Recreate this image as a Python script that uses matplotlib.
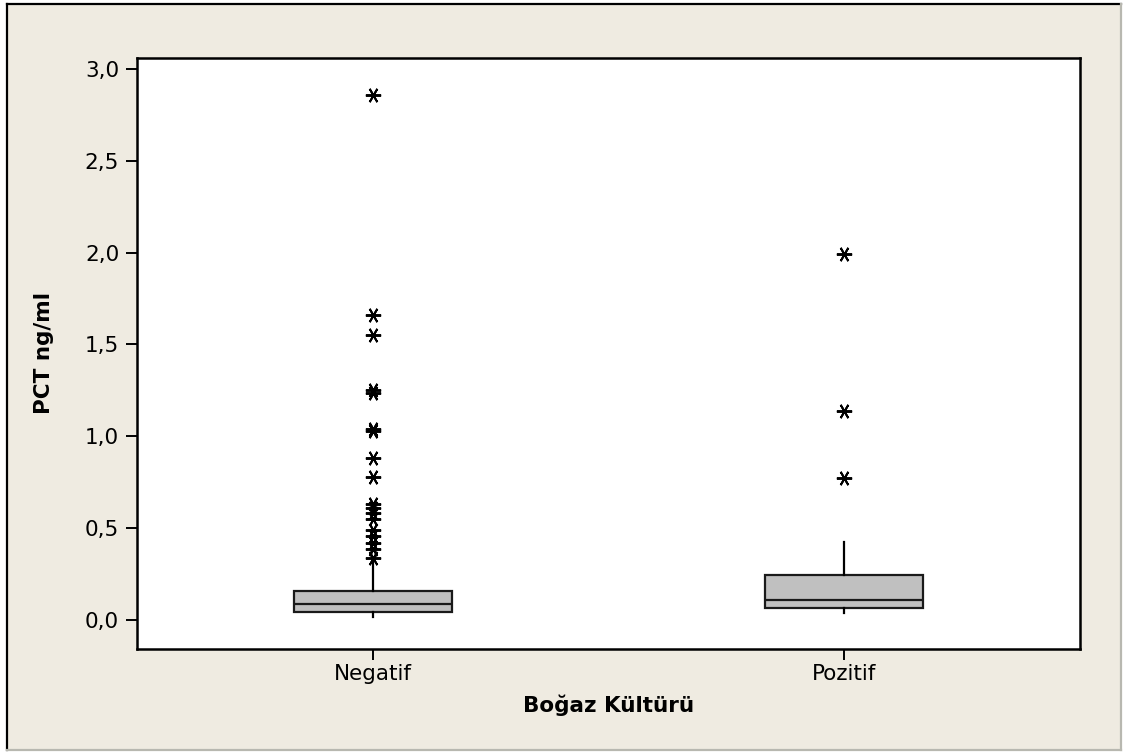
import matplotlib
matplotlib.use("Agg")
import matplotlib.pyplot as plt
from matplotlib.patches import Rectangle
from matplotlib.lines import Line2D

# Box plot summaries of PCT (ng/ml) by throat culture result
groups = ["Negatif", "Pozitif"]
q1 = [0.045, 0.067]
median = [0.089, 0.107]
q3 = [0.160, 0.245]
whisker_low = [0.015, 0.036]
whisker_high = [0.327, 0.423]
outliers_neg = [2.86, 1.66, 1.55, 1.25, 1.235, 1.04, 1.03, 0.88, 0.78,
                0.63, 0.61, 0.58, 0.55, 0.49, 0.455, 0.42, 0.385, 0.34]
outliers_pos = [1.99, 1.135, 0.775]
yticks = [0.0, 0.5, 1.0, 1.5, 2.0, 2.5, 3.0]

W, H = 1123, 752
fig = plt.figure(figsize=(W / 100, H / 100), dpi=100)
fig.patch.set_facecolor("white")

bg = "#EFEBE1"
fig.add_artist(Rectangle((7 / W, 1 - 750 / H), (1121 - 7) / W, (750 - 4) / H,
                         transform=fig.transFigure, facecolor=bg,
                         edgecolor="none", zorder=0))
# outer frame: dark on left/top, light grey on right/bottom
fig.add_artist(Line2D([7 / W, 7 / W], [1 - 750 / H, 1 - 4 / H],
                      transform=fig.transFigure, color="black", lw=1.6))
fig.add_artist(Line2D([7 / W, 1121 / W], [1 - 4 / H, 1 - 4 / H],
                      transform=fig.transFigure, color="black", lw=1.6))
fig.add_artist(Line2D([7 / W, 1121 / W], [1 - 750 / H, 1 - 750 / H],
                      transform=fig.transFigure, color="#B8B8B0", lw=1.6))
fig.add_artist(Line2D([1121 / W, 1121 / W], [1 - 750 / H, 1 - 4 / H],
                      transform=fig.transFigure, color="#B8B8B0", lw=1.6))

left, right = 137.3 / W, 1079.7 / W
bottom, top = 1 - 649 / H, 1 - 57.7 / H
ax = fig.add_axes([left, bottom, right - left, top - bottom])
ax.set_facecolor("white")

stats = []
fliers = [outliers_neg, outliers_pos]
for i, g in enumerate(groups):
    stats.append(dict(label=g, med=median[i], q1=q1[i], q3=q3[i],
                      whislo=whisker_low[i], whishi=whisker_high[i],
                      fliers=fliers[i]))

ax.bxp(stats, positions=[1, 2], widths=0.337, patch_artist=True,
       showcaps=False,
       boxprops=dict(facecolor="#C0C0C0", edgecolor="#1a1a1a", linewidth=1.6),
       medianprops=dict(color="#1a1a1a", linewidth=1.6),
       whiskerprops=dict(color="black", linewidth=1.6),
       flierprops=dict(marker=(6, 2, 90), markersize=11,
                       markeredgecolor="black", markeredgewidth=1.4,
                       linestyle="none"))

ax.set_xlim(0.5, 2.5)
ax.set_ylim(-0.158, 3.061)
ax.set_yticks(yticks)
ax.set_yticklabels([f"{v:.1f}".replace(".", ",") for v in yticks])
ax.set_xticks([1, 2])
ax.set_xticklabels(groups)

for s in ax.spines.values():
    s.set_linewidth(1.8)
    s.set_color("black")
ax.tick_params(axis="both", direction="out", length=8, width=1.4,
               labelsize=15.5, colors="black", pad=5)
ax.tick_params(axis="x", pad=3)

ax.set_xlabel("Boğaz Kültürü", fontsize=15.5, fontweight="bold", labelpad=7)
ax.set_ylabel("PCT ng/ml", fontsize=15.5, fontweight="bold", labelpad=22)

fig.savefig("out.png", dpi=100, facecolor=fig.get_facecolor())
